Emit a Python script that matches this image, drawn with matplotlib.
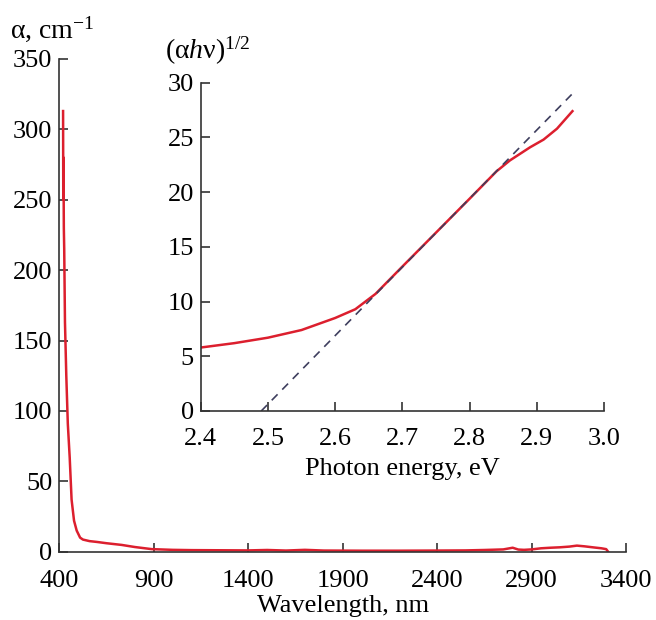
import matplotlib
matplotlib.use("Agg")
import matplotlib.pyplot as plt

# absorption spectrum (main plot)
wavelength = [420, 421, 422, 424, 426, 430, 437, 445, 455, 465, 478, 492, 510,
              525, 560, 600, 650, 730, 800, 890, 1000, 1100, 1250, 1400, 1500,
              1600, 1700, 1800, 2000, 2200, 2400, 2550, 2650, 2750, 2800, 2830,
              2860, 2900, 2950, 3000, 3050, 3100, 3140, 3180, 3230, 3270, 3295, 3305]
alpha = [313, 250, 280, 230, 215, 163, 125, 91, 67, 37, 22, 15, 10,
         8.6, 7.5, 6.9, 6.0, 4.8, 3.3, 1.8, 1.3, 1.1, 1.0, 0.9, 1.2,
         0.8, 1.3, 0.8, 0.7, 0.7, 0.8, 0.9, 1.2, 1.6, 2.8, 1.5,
         1.3, 1.6, 2.4, 2.8, 3.1, 3.6, 4.3, 3.8, 3.0, 2.4, 1.8, 0.0]

# Tauc plot (inset)
energy = [2.40, 2.45, 2.50, 2.55, 2.60, 2.63, 2.66, 2.70, 2.75, 2.80, 2.84,
          2.86, 2.875, 2.89, 2.91, 2.93, 2.953]
tauc = [5.8, 6.2, 6.7, 7.4, 8.5, 9.3, 10.7, 13.2, 16.3, 19.4, 21.9,
        22.9, 23.5, 24.1, 24.8, 25.8, 27.4]
fit_x = [2.49, 2.953]
fit_y = [0.0, 29.0]

main_xticks = [400, 900, 1400, 1900, 2400, 2900, 3400]
main_yticks = [0, 50, 100, 150, 200, 250, 300, 350]
inset_xticks = [2.4, 2.5, 2.6, 2.7, 2.8, 2.9, 3.0]
inset_yticks = [0, 5, 10, 15, 20, 25, 30]

FS = 19
plt.rcParams["font.family"] = ["Liberation Serif", "DejaVu Serif"]
plt.rcParams["mathtext.fontset"] = "custom"
plt.rcParams["mathtext.rm"] = "Liberation Serif"
plt.rcParams["mathtext.it"] = "Liberation Serif:italic"
plt.rcParams["font.size"] = FS

RED = "#dc1f2e"
AXC = "#333333"


def style(ax, ticklen, xpad):
    ax.spines["top"].set_visible(False)
    ax.spines["right"].set_visible(False)
    for s in ("left", "bottom"):
        ax.spines[s].set_color(AXC)
        ax.spines[s].set_linewidth(1.2)
    ax.tick_params(direction="in", length=ticklen, width=1.2, color=AXC,
                   labelsize=FS)
    ax.tick_params(axis="y", pad=5)
    ax.tick_params(axis="x", pad=xpad)


fig = plt.figure(figsize=(6.56, 6.2), dpi=100)

ax = fig.add_axes([0.0904, 0.1102, 0.8639, 0.7947])
ax.plot(wavelength, alpha, color=RED, lw=1.8, solid_joinstyle="round")
ax.set_xlim(400, 3400)
ax.set_ylim(0, 350)
ax.set_xticks(main_xticks)
ax.set_yticks(main_yticks)
style(ax, 6.5, 13)
ax.set_xlabel("Wavelength, nm", labelpad=2.5)
fig.text(0.015, 0.929, r"α, cm$^{\mathregular{-1}}$", fontsize=20, ha="left",
         va="bottom")

ins = fig.add_axes([0.306, 0.3371, 0.6148, 0.5295])
ins.patch.set_alpha(0)
ins.plot(energy, tauc, color=RED, lw=1.8, solid_joinstyle="round")
ins.plot(fit_x, fit_y, color="#3e3e5e", lw=1.2, dashes=(5, 4))
ins.set_xlim(2.4, 3.0)
ins.set_ylim(0, 30)
ins.set_xticks(inset_xticks)
ins.set_xticklabels([f"{t:.1f}" for t in inset_xticks])
ins.set_yticks(inset_yticks)
style(ins, 6.5, 12)
ins.set_xlabel("Photon energy, eV", labelpad=6)
fig.text(0.252, 0.892, r"(α$\mathit{h}$ν)$^{\mathregular{1/2}}$", fontsize=20,
         ha="left", va="bottom")

fig.savefig("out.png", dpi=100)
